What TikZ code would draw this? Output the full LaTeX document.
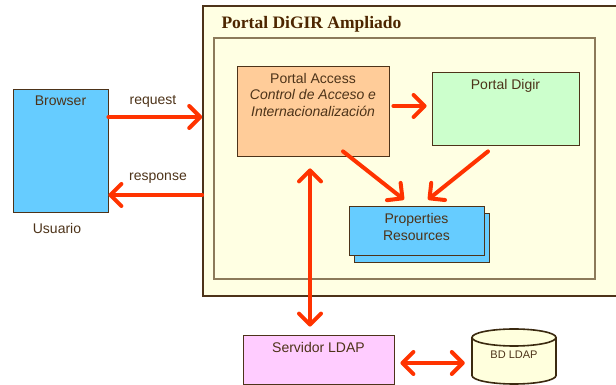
\documentclass[tikz,border=0pt]{standalone}
\usepackage{fontspec}
\setmainfont{Liberation Sans}
\newfontfamily\titlefont{Liberation Serif}
\usetikzlibrary{arrows.meta}
\definecolor{arrowred}{HTML}{FF3300}
\definecolor{ink}{HTML}{4D3319}
\definecolor{titlebrown}{HTML}{4D2600}
\definecolor{cream}{HTML}{FFFFE3}
\definecolor{innerline}{HTML}{8C7A5A}
\definecolor{browserblue}{HTML}{66CCFF}
\definecolor{accessorange}{HTML}{FFCC99}
\definecolor{digirgreen}{HTML}{CCFFCC}
\definecolor{ldappink}{HTML}{FFCCFF}
\definecolor{dbcream}{HTML}{FFFFDD}
\definecolor{dbline}{HTML}{3B2A10}

\begin{document}
\begin{tikzpicture}[x=1pt,y=1pt]
    \tikzstyle{every node} = [text=ink, font=\fontsize{14}{16.5}\selectfont];
    \tikzstyle{box} = [draw=ink, line width=0.8pt, inner sep=0pt];
    \tikzstyle{head} = [anchor=north, align=center, yshift=-4pt];
    \tikzstyle{arr} = [draw=arrowred, line width=4pt, line cap=round, line join=round,
      -{Straight Barb[length=11pt,width=22pt,round]}];
    \tikzstyle{dbl} = [arr, {Straight Barb[length=11pt,width=22pt,round]}-{Straight Barb[length=11pt,width=22pt,round]}];
    \useasboundingbox (0,0) rectangle (616,385);
    \clip (0,0) rectangle (616,385);
    \node[box, fill=cream, line width=1.6pt, minimum width=422, minimum height=290] (portal) at (414,234) {};
    \node[anchor=west, text=titlebrown, font=\titlefont\bfseries\fontsize{17.5}{20}\selectfont] (title) at (218,361) {Portal DiGIR Ampliado};
    \node[draw=innerline, line width=1.2pt, fill=cream, minimum width=381, minimum height=241] (inner) at (404.5,226.5) {};
    \node[box, fill=accessorange, minimum width=152, minimum height=90] (access) at (313,274) {};
    \node[head] (accesstxt) at (access.north) {Portal Access\\\textit{Control de Acceso e}\\\textit{Internacionalización}};
    \node[box, fill=digirgreen, minimum width=147, minimum height=73] (digir) at (505.5,276.5) {};
    \node[head] (digirtxt) at (digir.north) {Portal Digir};
    \node[box, fill=browserblue, minimum width=135, minimum height=49] (propsback) at (421.5,147.5) {};
    \node[box, fill=browserblue, minimum width=135, minimum height=49] (props) at (416.5,154.5) {};
    \node[align=center] (propstxt) at ([yshift=3.5]props.center) {Properties\\Resources};
    \node[box, fill=browserblue, minimum width=95, minimum height=123] (browser) at (60.5,234.5) {};
    \node[head] (browsertxt) at (browser.north) {Browser};
    \node (usuario) at (57,156) {Usuario};
    \node (req) at (153,284) {request};
    \node (resp) at (158,207) {response};
    \node[box, fill=ldappink, minimum width=151, minimum height=49] (ldap) at (318.5,25.5) {};
    \node[head] (ldaptxt) at (ldap.north) {Servidor LDAP};
    \filldraw[fill=dbcream, draw=dbline, line width=1.6pt] (472,47.5) -- (472,9.5)
      arc[start angle=180, end angle=360, x radius=42, y radius=8.5] -- (556,47.5)
      arc[start angle=0, end angle=180, x radius=42, y radius=8.5] -- cycle;
    \draw[draw=dbline, line width=1.6pt] (472,47.5) arc[start angle=180, end angle=360, x radius=42, y radius=8.5];
    \node[minimum width=84, inner sep=0pt, font=\fontsize{11}{13}\selectfont] (bd) at (514,30) {BD LDAP};
    \draw[arr] ([yshift=33.5]browser.east) -- ([yshift=33.5]browser.east -| portal.west);
    \draw[arr] ([yshift=-44.5]browser.east -| portal.west) -- ([yshift=-44.5]browser.east);
    \draw[arr, shorten <=4pt, shorten >=5pt] ([yshift=5]access.east) -- ([yshift=5]access.east -| digir.west);
    \draw[arr] ([xshift=30,yshift=5]access.south) -- ([xshift=-12.5,yshift=6]props.north);
    \draw[arr] ([xshift=-17.5,yshift=-6]digir.south) -- ([xshift=11.5,yshift=6]props.north);
    \draw[dbl, shorten <=12pt, shorten >=8pt] ([xshift=-3]access.south) -- ([xshift=-8.5]ldap.north);
    \draw[dbl, shorten <=6pt, shorten >=7pt] ([yshift=-3.5]ldap.east) -- ([yshift=-3.5]ldap.east -| bd.west);
\end{tikzpicture}
\end{document}
